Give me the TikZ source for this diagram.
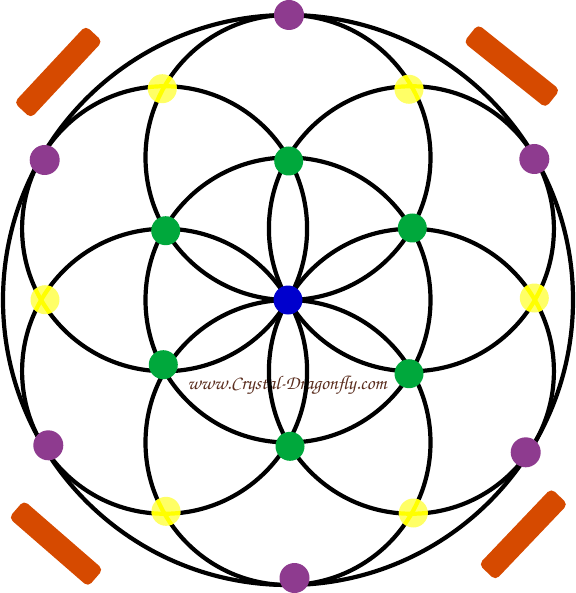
\documentclass[tikz,border=0pt]{standalone}
\usepackage[T1,TU]{fontenc}
\usetikzlibrary{calc}
\definecolor{dpurple}{RGB}{142,59,143}
\definecolor{dgreen}{RGB}{0,168,60}
\definecolor{dblue}{RGB}{0,0,205}
\definecolor{dorange}{RGB}{214,74,0}
\definecolor{yfill}{RGB}{255,255,102}
\definecolor{yline}{RGB}{255,255,0}
\definecolor{tbrown}{RGB}{90,45,30}
\tikzset{
  ring/.style={line width=4.2pt, draw=black},
  yring/.style={line width=4.2pt, draw=yline},
  dot/.style={circle, inner sep=0pt, minimum size=29pt},
  bar/.style={rectangle, rounded corners=5pt, fill=dorange, inner sep=0pt, minimum width=105pt, minimum height=23pt},
  wmark/.style={font=\fontencoding{T1}\fontfamily{pzc}\fontseries{mb}\fontshape{it}\fontsize{19.5}{22}\selectfont, text=tbrown, inner sep=0pt}
}
\begin{document}
\begin{tikzpicture}[x=1pt,y=-1pt]
\useasboundingbox (0,0) rectangle (575,593);
\def\R{142.5pt}
\coordinate (C) at (288,300);
\foreach \a/\n in {90/c1,30/c2,-30/c3,-90/c4,-150/c5,150/c6}
  \coordinate (\n) at ($(C)+(\a:\R)$);
% watermark
\node[wmark] (wm) at (287,386) {www.Crystal-Dragonfly.com};
% circles
\draw[ring] (C) circle[radius=285pt];
\foreach \n in {C,c1,c2,c3,c4,c5,c6}
  \draw[ring] (\n) circle[radius=\R];
% orange bars
\node[bar, rotate=47] (o1) at (58.3,72) {};
\node[bar, rotate=-38.6] (o2) at (511.8,66.1) {};
\node[bar, rotate=-41] (o3) at (56,543.6) {};
\node[bar, rotate=46.4] (o4) at (523.3,534.3) {};
% yellow dots
\foreach \p/\n in {{(162.3,88.7)}/y1,{(409,89.3)}/y2,{(534.3,298)}/y3,{(45,299.7)}/y4,{(166,511.3)}/y5,{(413.3,513)}/y6}
  \node[dot, fill=yfill] (\n) at \p {};
\begin{scope}
  \clip (162.3,88.7) circle[radius=14.5pt] (409,89.3) circle[radius=14.5pt]
        (534.3,298) circle[radius=14.5pt] (45,299.7) circle[radius=14.5pt]
        (166,511.3) circle[radius=14.5pt] (413.3,513) circle[radius=14.5pt];
  \draw[yring] (C) circle[radius=285pt];
  \foreach \n in {C,c1,c2,c3,c4,c5,c6}
    \draw[yring] (\n) circle[radius=\R];
\end{scope}
% green dots
\foreach \p/\n in {{(288.7,161)}/g1,{(412.3,228)}/g2,{(409,373.7)}/g3,{(290,446.3)}/g4,{(163.3,364.7)}/g5,{(165.7,230.7)}/g6}
  \node[dot, fill=dgreen] (\n) at \p {};
% purple dots
\foreach \p/\n in {{(289,15)}/p1,{(534.3,159)}/p2,{(525.7,452.3)}/p3,{(294.5,578)}/p4,{(48.3,445.3)}/p5,{(44.7,160)}/p6}
  \node[dot, fill=dpurple, minimum size=30pt] (\n) at \p {};
% blue centre
\node[dot, fill=dblue] (b0) at (288,300) {};
\end{tikzpicture}
\end{document}
